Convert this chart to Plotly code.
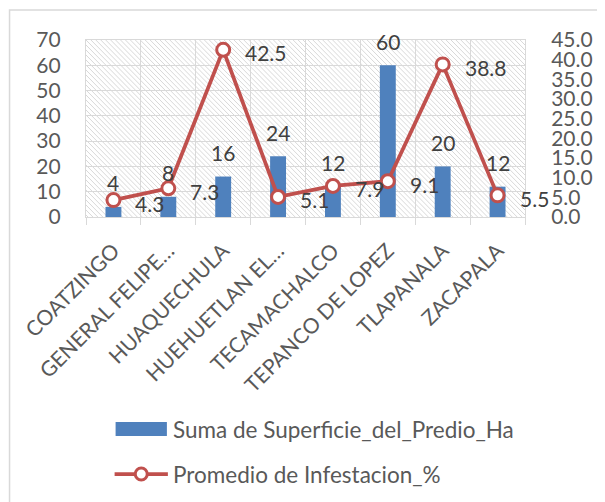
import base64
import plotly.graph_objects as go

categories = ["COATZINGO", "GENERAL FELIPE…", "HUAQUECHULA", "HUEHUETLAN EL…",
              "TECAMACHALCO", "TEPANCO DE LOPEZ", "TLAPANALA", "ZACAPALA"]
superficie = [4, 8, 16, 24, 12, 60, 20, 12]
infestacion = [4.3, 7.3, 42.5, 5.1, 7.9, 9.1, 38.8, 5.5]
left_ticks = [0, 10, 20, 30, 40, 50, 60, 70]
right_ticks = [0, 5, 10, 15, 20, 25, 30, 35, 40, 45]

bar_name = "Suma de Superficie_del_Predio_Ha"
line_name = "Promedio de Infestacion_%"

FONT = "Lato"
TXT = "#595959"
LBL = "#404040"
GRID = "#D9D9D9"
BLUE = "#4F81BD"
RED = "#C0504D"

OFF = 8  # page body margin
W, H = 605 - OFF, 502 - OFF
L, T = 86 - OFF, 40 - OFF
R = W - (531 - OFF)
B = H - (217 - OFF)
PW, PH = W - L - R, H - T - B


def px(x):
    return (x - OFF - L) / PW


def py(y):
    return (H - B - (y - OFF)) / PH


fig = go.Figure()
fig.add_trace(go.Bar(x=categories, y=superficie, name=bar_name,
                     marker=dict(color=BLUE, line=dict(width=0)),
                     yaxis="y", showlegend=False))
fig.add_trace(go.Scatter(x=categories, y=infestacion, name=line_name,
                         mode="lines+markers", yaxis="y2",
                         line=dict(color=RED, width=3.75),
                         marker=dict(symbol="circle", size=13, color="white",
                                     line=dict(color=RED, width=3)),
                         showlegend=False, cliponaxis=False))

annotations = []
for c, v in zip(categories, superficie):
    annotations.append(dict(x=c, y=v, xref="x", yref="y", text=str(v),
                            showarrow=False, yanchor="middle", xanchor="center",
                            yshift=24, font=dict(family=FONT, size=21, color=LBL)))
for c, v in zip(categories, infestacion):
    annotations.append(dict(x=c, y=v, xref="x", yref="y2", text=f"{v:.1f}",
                            showarrow=False, yanchor="middle", xanchor="left",
                            xshift=20, yshift=-3,
                            font=dict(family=FONT, size=21, color=LBL)))

# legend (custom)
annotations.append(dict(x=px(172), y=py(429), xref="paper", yref="paper",
                        text=bar_name, showarrow=False, xanchor="left", yanchor="middle",
                        font=dict(family=FONT, size=22.5, color=TXT)))
annotations.append(dict(x=px(172), y=py(474), xref="paper", yref="paper",
                        text=line_name, showarrow=False, xanchor="left", yanchor="middle",
                        font=dict(family=FONT, size=22.5, color=TXT)))

shapes = [
    # outer chart border
    dict(type="rect", xref="paper", yref="paper", x0=px(8.5), x1=px(640),
         y0=py(540), y1=py(10), line=dict(color=GRID, width=1.5), layer="below"),
    # legend symbols
    dict(type="rect", xref="paper", yref="paper", x0=px(116), x1=px(168),
         y0=py(436), y1=py(422), fillcolor=BLUE, line=dict(width=0)),
    dict(type="line", xref="paper", yref="paper", x0=px(115), x1=px(169),
         y0=py(474), y1=py(474), line=dict(color=RED, width=3.75)),
    dict(type="circle", xref="paper", yref="paper", xsizemode="pixel",
         ysizemode="pixel", xanchor=px(142), yanchor=py(474),
         x0=-6, x1=6, y0=-6, y1=6, fillcolor="white",
         line=dict(color=RED, width=3)),
]

svg = (f'<svg xmlns="http://www.w3.org/2000/svg" width="{PW}" height="{PH}" '
       f'viewBox="0 0 {PW} {PH}"><defs><pattern id="p" width="5" height="5" '
       'patternUnits="userSpaceOnUse"><path d="M0,0L5,5M-1,4L1,6M4,-1L6,1" '
       'stroke="#D4D4D4" stroke-width="0.9"/></pattern></defs>'
       f'<rect width="{PW}" height="{PH}" fill="url(#p)"/></svg>')
img_src = "data:image/svg+xml;base64," + base64.b64encode(svg.encode()).decode()

fig.update_layout(
    width=W, height=H,
    margin=dict(l=L, r=R, t=T, b=B, pad=0),
    paper_bgcolor="white", plot_bgcolor="white",
    bargap=0.71,
    showlegend=False,
    font=dict(family=FONT, color=TXT),
    annotations=annotations,
    shapes=shapes,
    images=[dict(source=img_src, xref="paper", yref="paper", x=0, y=1,
                 sizex=1, sizey=1, xanchor="left", yanchor="top",
                 sizing="stretch", layer="below")],
    xaxis=dict(type="category", tickson="boundaries", showgrid=True,
               gridcolor=GRID, gridwidth=1.3, ticks="outside", ticklen=7,
               tickcolor=GRID, tickwidth=1.3, tickangle=-45,
               showline=True, linecolor=GRID, linewidth=1.3, mirror=True,
               tickfont=dict(family=FONT, size=21, color=TXT),
               ticklabelstandoff=12, range=[-0.5, 7.5]),
    yaxis=dict(range=[0, 70], tickvals=left_ticks, showgrid=True,
               gridcolor=GRID, gridwidth=1.3, zeroline=False,
               showline=True, linecolor=GRID, linewidth=1.3, mirror=True,
               ticks="outside", ticklen=20, tickcolor="rgba(0,0,0,0)",
               tickfont=dict(family=FONT, size=21, color=TXT)),
    yaxis2=dict(range=[0, 45], tickvals=right_ticks, tickformat=".1f",
                overlaying="y", side="right", showgrid=False, zeroline=False,
                ticks="outside", ticklen=21, tickcolor="rgba(0,0,0,0)",
                tickfont=dict(family=FONT, size=21, color=TXT)),
)

fig.write_html("out.html")
